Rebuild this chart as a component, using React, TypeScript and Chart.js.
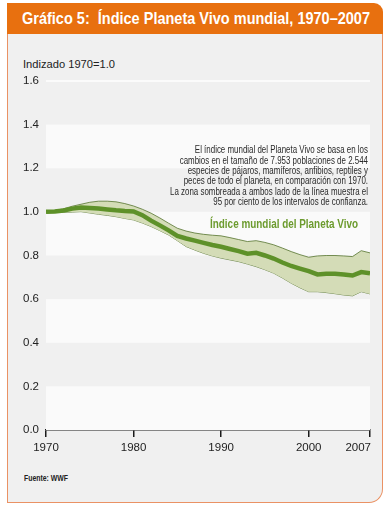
import React, { useEffect, useLayoutEffect, useRef } from "react";
import { Chart, registerables } from "chart.js";

Chart.register(...registerables);

const TITLE = "Gráfico 5:  Índice Planeta Vivo mundial, 1970–2007";
const Y_TITLE = "Indizado 1970=1.0";
const SOURCE = "Fuente: WWF";
const SERIES_LABEL = "Índice mundial del Planeta Vivo";
const ANNOTATION_LINES = [
  "El índice mundial del Planeta Vivo se basa en los",
  "cambios en el tamaño de 7.953 poblaciones de 2.544",
  "especies de pájaros, mamíferos, anfibios, reptiles y",
  "peces de todo el planeta, en comparación con 1970.",
  "La zona sombreada a ambos lado de la línea muestra el",
  "95 por ciento de los intervalos de confianza.",
];

const YEARS = [
  1970, 1971, 1972, 1973, 1974, 1975, 1976, 1977, 1978, 1979,
  1980, 1981, 1982, 1983, 1984, 1985, 1986, 1987, 1988, 1989,
  1990, 1991, 1992, 1993, 1994, 1995, 1996, 1997, 1998, 1999,
  2000, 2001, 2002, 2003, 2004, 2005, 2006, 2007,
];
const INDEX = [
  1.0, 1.002, 1.006, 1.015, 1.02, 1.018, 1.015, 1.011, 1.007, 1.004,
  1.002, 0.985, 0.96, 0.938, 0.915, 0.89, 0.878, 0.868, 0.858, 0.848,
  0.84, 0.83, 0.82, 0.808, 0.812, 0.8, 0.786, 0.768, 0.752, 0.74,
  0.728, 0.713, 0.716, 0.716, 0.713, 0.708, 0.724, 0.718,
];
const UPPER = [
  1.0, 1.006, 1.014, 1.026, 1.035, 1.044, 1.049, 1.049, 1.046, 1.038,
  1.027, 1.012, 0.994, 0.972, 0.948, 0.925, 0.912, 0.903, 0.897, 0.893,
  0.89, 0.882, 0.873, 0.864, 0.868, 0.86, 0.849, 0.834, 0.818, 0.804,
  0.792, 0.798, 0.8, 0.8, 0.798, 0.795, 0.822, 0.812,
];
const LOWER = [
  1.0, 0.999, 0.998, 0.999, 1.001, 0.995, 0.989, 0.984, 0.978, 0.97,
  0.963, 0.949, 0.933, 0.914, 0.894, 0.868, 0.841, 0.825, 0.81, 0.798,
  0.788, 0.78, 0.772, 0.761, 0.749, 0.735, 0.719, 0.697, 0.673, 0.652,
  0.634, 0.634, 0.63, 0.625, 0.619, 0.615, 0.634, 0.624,
];
const X_TICKS = [1970, 1980, 1990, 2000, 2007];
const Y_MIN = 0;
const Y_MAX = 1.6;
const Y_STEP = 0.2;
const LIGHT_BANDS = [0, 0.4, 0.8, 1.2];

const SANS = "'Liberation Sans', Arial, sans-serif";

const pts = (vals: number[]) => vals.map((v, i) => ({ x: YEARS[i], y: v }));

function drawScaled(ctx: any, text: string, x: number, y: number, sx: number, align: string) {
  ctx.save();
  ctx.translate(x, y);
  ctx.scale(sx, 1);
  ctx.textAlign = align;
  ctx.fillText(text, 0, 0);
  ctx.restore();
}

const bandsPlugin = {
  id: "bands",
  beforeDatasetsDraw(chart: any) {
    const { ctx, chartArea } = chart;
    const y = chart.scales.y;
    ctx.save();
    ctx.fillStyle = "#fafafa";
    LIGHT_BANDS.forEach((b) => {
      const top = y.getPixelForValue(b + Y_STEP);
      const bot = y.getPixelForValue(b);
      ctx.fillRect(chartArea.left, top, chartArea.right - chartArea.left, bot - top);
    });
    ctx.strokeStyle = "#ffffff";
    ctx.lineWidth = 1.5;
    const yt = y.getPixelForValue(Y_MAX);
    ctx.beginPath();
    ctx.moveTo(chartArea.left, yt);
    ctx.lineTo(chartArea.right, yt);
    ctx.stroke();
    ctx.restore();
  },
};

const annotationPlugin = {
  id: "annot",
  afterDraw(chart: any) {
    const { ctx, chartArea } = chart;
    const xs = chart.scales.x;
    ctx.save();
    ctx.textBaseline = "middle";
    // x tick labels (last one right-aligned at its tick)
    ctx.fillStyle = "#222";
    ctx.font = `11.5px ${SANS}`;
    X_TICKS.forEach((t, i) => {
      const px = xs.getPixelForValue(t);
      ctx.textAlign = i === X_TICKS.length - 1 ? "right" : "center";
      ctx.fillText(String(t), i === X_TICKS.length - 1 ? px + 1 : px, chartArea.bottom + 18);
    });
    // annotation block
    ctx.fillStyle = "#2a2a2a";
    ctx.font = `10px ${SANS}`;
    const sx = 198 / ctx.measureText(ANNOTATION_LINES[4]).width;
    ANNOTATION_LINES.forEach((line, i) => {
      drawScaled(ctx, line, 368, 150.5 + i * 10.4, sx, "right");
    });
    ctx.fillStyle = "#6c9b2e";
    ctx.font = `bold 13px ${SANS}`;
    const sx2 = 148 / ctx.measureText(SERIES_LABEL).width;
    drawScaled(ctx, SERIES_LABEL, 358, 224, sx2, "right");
    ctx.restore();
  },
};

function FitText(props: { text: string; width: number; style: any }) {
  const ref = useRef<HTMLSpanElement | null>(null);
  useLayoutEffect(() => {
    const el = ref.current;
    if (!el) return;
    el.style.transform = "none";
    const w = el.getBoundingClientRect().width;
    if (w > 0) el.style.transform = `scaleX(${props.width / w})`;
  }, [props.text, props.width]);
  return (
    <span
      ref={ref}
      style={{
        position: "absolute",
        display: "inline-block",
        whiteSpace: "pre",
        transformOrigin: "left center",
        ...props.style,
      }}
    >
      {props.text}
    </span>
  );
}

export default function App() {
  const ref = useRef<HTMLCanvasElement | null>(null);

  useEffect(() => {
    if (!ref.current) return;
    const chart = new Chart(ref.current, {
      type: "line",
      data: {
        datasets: [
          {
            label: SERIES_LABEL,
            data: pts(INDEX),
            borderColor: "#5e9129",
            borderWidth: 4.5,
            pointRadius: 0,
            fill: false,
            tension: 0,
          },
          {
            label: "upper",
            data: pts(UPPER),
            borderColor: "#56742f",
            borderWidth: 0.8,
            backgroundColor: "#d4dcb7",
            pointRadius: 0,
            fill: "+1",
            tension: 0,
          },
          {
            label: "lower",
            data: pts(LOWER),
            borderColor: "#56742f",
            borderWidth: 0.8,
            pointRadius: 0,
            fill: false,
            tension: 0,
          },
        ],
      },
      options: {
        animation: false,
        responsive: false,
        maintainAspectRatio: false,
        layout: { padding: { left: 0, right: 19, top: 81, bottom: 52 } },
        plugins: {
          legend: { display: false },
          tooltip: { enabled: false },
        },
        scales: {
          x: {
            type: "linear",
            min: 1970,
            max: 2007,
            afterBuildTicks: (scale: any) => {
              scale.ticks = X_TICKS.map((v) => ({ value: v }));
            },
            afterFit: (scale: any) => {
              scale.height = 30;
            },
            grid: {
              drawOnChartArea: false,
              drawTicks: true,
              tickLength: 7,
              color: "#1a1a1a",
              lineWidth: 1.5,
            },
            border: { display: true, color: "#1a1a1a", width: 1.5 },
            ticks: {
              autoSkip: false,
              maxRotation: 0,
              padding: 3,
              color: "rgba(0,0,0,0)",
              font: { family: SANS, size: 11.5 },
              callback: (v: any) => String(v),
            },
          },
          y: {
            type: "linear",
            min: Y_MIN,
            max: Y_MAX,
            afterFit: (scale: any) => {
              scale.width = 46;
            },
            grid: { display: false, drawTicks: false },
            border: { display: false },
            ticks: {
              stepSize: Y_STEP,
              padding: 7,
              color: "#222",
              font: { family: SANS, size: 11.5 },
              callback: (v: any) => Number(v).toFixed(1),
            },
          },
        },
      },
      plugins: [bandsPlugin, annotationPlugin],
    } as any);
    return () => chart.destroy();
  }, []);

  return (
    <div style={{ position: "fixed", left: 0, top: 0, width: 389, height: 512, background: "#ffffff", overflow: "hidden" }}>
      <div
        style={{
          position: "absolute",
          left: 7,
          top: 3,
          width: 376,
          height: 31,
          background: "#e8700f",
          borderTopRightRadius: 9,
        }}
      />
      <div
        style={{
          position: "absolute",
          left: 7,
          top: 34,
          width: 376,
          height: 469,
          boxSizing: "border-box",
          background: "#f0f0f0",
          borderLeft: "1.5px solid #ea9264",
          borderRight: "1.5px solid #ea9264",
          borderBottom: "1.5px solid #ea9264",
          borderBottomRightRadius: 14,
        }}
      />
      <FitText
        text={TITLE}
        width={348}
        style={{
          left: 22,
          top: 8,
          color: "#ffffff",
          fontFamily: SANS,
          fontWeight: "bold",
          fontSize: 16.5,
          lineHeight: "20px",
        }}
      />
      <FitText
        text={Y_TITLE}
        width={92}
        style={{
          left: 23,
          top: 57,
          color: "#222",
          fontFamily: SANS,
          fontSize: 11.5,
          lineHeight: "14px",
        }}
      />
      <FitText
        text={SOURCE}
        width={44}
        style={{
          left: 24,
          top: 473,
          color: "#222",
          fontFamily: SANS,
          fontWeight: "bold",
          fontSize: 8.5,
          lineHeight: "11px",
        }}
      />
      <canvas
        ref={ref}
        width={389}
        height={512}
        style={{ position: "absolute", left: 0, top: 0, width: 389, height: 512 }}
      />
    </div>
  );
}
